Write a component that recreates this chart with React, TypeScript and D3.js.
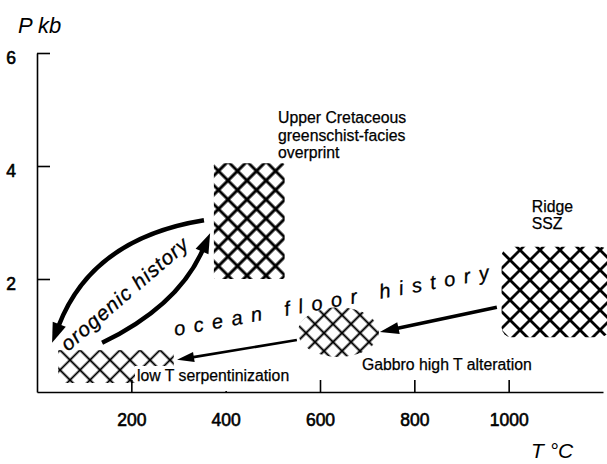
import React, { useEffect, useRef } from "react";
import * as d3 from "d3";

// axis ticks
const tempTicks = [200, 400, 600, 800, 1000];
const pressureTicks = [2, 4, 6];

// hatched P-T fields: T range (°C) and P range (kb)
const fieldNames = ["upper", "ridge", "gabbro", "serp"];
const fieldT = [[375, 525], [985, 1240], [553, 725], [45, 290]];
const fieldP = [[2.0, 4.05], [0.97, 2.57], [0.62, 1.5], [0.16, 0.74]];

// field labels: anchor (T, P) and text lines
const labelT = [511, 1049, 689, 212];
const labelP = [4.76, 3.19, 0.39, 0.195];
const labelLines = [
  ["Upper Cretaceous", "greenschist-facies", "overprint"],
  ["Ridge", "SSZ"],
  ["Gabbro high T alteration"],
  ["low T serpentinization"],
];

// arrows as [T, P] points (start, control, tip) or (start, tip)
const orogenicDown = [[354, 3.04], [117, 2.72], [32, 0.87]];
const orogenicUp = [[138, 0.87], [299, 1.52], [367, 2.81]];
const oceanArrowA = [[975, 1.5], [727, 1.06]];
const oceanArrowB = [[551, 0.92], [297, 0.57]];

// path labels: start and end [T, P]
const oceanText = "ocean floor history";
const oceanPath = [[293, 0.99], [960, 2.0]];
const orogenicText = "orogenic history";
const orogenicPath = [[66, 0.71], [324, 2.57]];

const FONT = "'Liberation Sans', Arial, Helvetica, sans-serif";

export default function App() {
  const ref = useRef<SVGSVGElement>(null);

  useEffect(() => {
    const svg = d3.select(ref.current);
    svg.selectAll("*").remove();

    const x = d3.scaleLinear().domain([0, 1200]).range([37, 603]);
    const y = d3.scaleLinear().domain([0, 6]).range([392, 53]);
    const defs = svg.append("defs");

    const hatch = (id: string, period: number, sw: number) => {
      const s = period / Math.SQRT2;
      const p = defs
        .append("pattern")
        .attr("id", id)
        .attr("patternUnits", "userSpaceOnUse")
        .attr("width", s)
        .attr("height", s)
        .attr("patternTransform", "rotate(45)");
      p.append("path")
        .attr("d", `M${s / 2},0V${s}M0,${s / 2}H${s}`)
        .attr("stroke", "#000")
        .attr("stroke-width", sw);
    };
    const style: any = {
      upper: { period: 19, sw: 3, rx: 2 },
      ridge: { period: 20, sw: 2.7, rx: 10 },
      gabbro: { period: 18, sw: 2, rx: 0 },
      serp: { period: 20, sw: 1.8, rx: 0 },
    };
    fieldNames.forEach((n) => hatch("h-" + n, style[n].period, style[n].sw));

    // axes
    const gx = svg
      .append("g")
      .attr("transform", `translate(0,${y(0)})`)
      .call(
        d3.axisBottom(x).tickValues(tempTicks).tickFormat(d3.format("d"))
          .tickSize(-12).tickSizeOuter(0).tickPadding(22)
      );
    const gy = svg
      .append("g")
      .attr("transform", `translate(${x(0)},0)`)
      .call(
        d3.axisLeft(y).tickValues(pressureTicks).tickFormat(d3.format("d"))
          .tickSize(-13).tickSizeOuter(0).tickPadding(21)
      );
    [gx, gy].forEach((g) => {
      g.selectAll("path, line").attr("stroke", "#000").attr("stroke-width", 1.6);
      g.selectAll("text")
        .attr("font-family", FONT)
        .attr("font-size", 17.5)
        .attr("fill", "#000")
        .attr("stroke", "#000")
        .attr("stroke-width", 0.6);
    });
    gy.selectAll("text").attr("dy", "0.6em");

    // hatched fields
    fieldNames.forEach((n, i) => {
      const x0 = x(fieldT[i][0]), x1 = Math.min(x(fieldT[i][1]), 610);
      const y0 = y(fieldP[i][1]), y1 = y(fieldP[i][0]);
      if (n === "gabbro") {
        svg.append("ellipse")
          .attr("cx", (x0 + x1) / 2).attr("cy", (y0 + y1) / 2)
          .attr("rx", (x1 - x0) / 2).attr("ry", (y1 - y0) / 2)
          .attr("fill", "url(#h-gabbro)");
      } else {
        svg.append("rect")
          .attr("x", x0).attr("y", y0)
          .attr("width", x1 - x0).attr("height", y1 - y0)
          .attr("rx", style[n].rx)
          .attr("fill", `url(#h-${n})`);
      }
    });

    // field labels
    labelLines.forEach((lines, i) => {
      const t = svg.append("text")
        .attr("font-family", FONT)
        .attr("font-size", 15.8)
        .attr("fill", "#000")
        .attr("stroke", "#000")
        .attr("stroke-width", 0.25);
      lines.forEach((s, j) => {
        t.append("tspan")
          .attr("x", x(labelT[i]))
          .attr("y", y(labelP[i]) + j * 17.5)
          .text(s);
      });
      if (fieldNames[i] === "serp") {
        const b = (t.node() as SVGTextElement).getBBox();
        svg.insert("rect", () => t.node() as any)
          .attr("x", b.x - 2)
          .attr("y", b.y - 1)
          .attr("width", b.width + 4)
          .attr("height", y(0) - b.y)
          .attr("fill", "#fff");
      }
    });

    // arrows
    const arrow = (pts: number[][], sw: number, hl: number, hw: number) => {
      const p = pts.map(([t, pr]) => [x(t), y(pr)]);
      const tip = p[p.length - 1];
      const prev = p[p.length - 2];
      const dx = tip[0] - prev[0], dy = tip[1] - prev[1];
      const len = Math.hypot(dx, dy);
      const ux = dx / len, uy = dy / len;
      const bx = tip[0] - ux * hl, by = tip[1] - uy * hl;
      const path = d3.path();
      path.moveTo(p[0][0], p[0][1]);
      if (p.length === 3) path.quadraticCurveTo(p[1][0], p[1][1], bx + ux * 2, by + uy * 2);
      else path.lineTo(bx + ux * 2, by + uy * 2);
      svg.append("path")
        .attr("d", path.toString())
        .attr("fill", "none")
        .attr("stroke", "#000")
        .attr("stroke-width", sw);
      svg.append("path")
        .attr("d", `M${tip[0]},${tip[1]}L${bx - uy * hw / 2},${by + ux * hw / 2}L${bx + uy * hw / 2},${by - ux * hw / 2}Z`)
        .attr("fill", "#000");
    };
    arrow(orogenicDown, 4.5, 20, 14);
    arrow(orogenicUp, 4.5, 20, 14);
    arrow(oceanArrowA, 3.6, 19, 12);
    arrow(oceanArrowB, 2.6, 17, 10);

    // curved / slanted labels
    const textOnPath = (id: string, pts: number[][], s: string, size: number) => {
      const p = pts.map(([t, pr]) => [x(t), y(pr)]);
      defs.append("path").attr("id", id).attr("d", d3.line()(p as any));
      const len = Math.hypot(p[1][0] - p[0][0], p[1][1] - p[0][1]);
      svg.append("text")
        .attr("font-family", FONT)
        .attr("font-size", size)
        .attr("font-style", "italic")
        .attr("fill", "#000")
        .attr("stroke", "#000")
        .attr("stroke-width", 0.3)
        .append("textPath")
        .attr("href", "#" + id)
        .attr("textLength", len)
        .attr("lengthAdjust", "spacing")
        .text(s);
    };
    textOnPath("ocean", oceanPath, oceanText, 20);
    textOnPath("orogenic", orogenicPath, orogenicText, 20.5);

    // axis titles
    svg.append("text")
      .attr("x", 18).attr("y", 33)
      .attr("font-family", FONT).attr("font-size", 22).attr("font-style", "italic")
      .text("P kb");
    svg.append("text")
      .attr("x", 531).attr("y", 458)
      .attr("font-family", FONT).attr("font-size", 21).attr("font-style", "italic")
      .text("T °C");
  }, []);

  return (
    <svg
      ref={ref}
      width={607}
      height={464}
      style={{ position: "absolute", left: 0, top: 0, background: "#fff" }}
    />
  );
}
